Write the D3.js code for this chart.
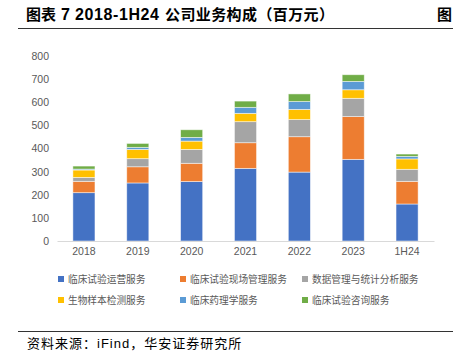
<!DOCTYPE html>
<html>
<head>
<meta charset="utf-8">
<script src="https://cdn.jsdelivr.net/npm/d3@7"></script>
<style>
  body { margin: 0; background: #fff; }
  svg { display: block; font-family: "Liberation Sans", Arial, "Noto Sans CJK SC", sans-serif; }
</style>
</head>
<body>
<svg width="453" height="353"></svg>
<script>
// категории по оси X
const years = ['2018', '2019', '2020', '2021', '2022', '2023', '1H24'];
// серии (млн юаней)
const seriesNames = ['临床试验运营服务', '临床试验现场管理服务', '数据管理与统计分析服务',
  '生物样本检测服务', '临床药理学服务', '临床试验咨询服务'];
const operation = [209, 251, 257, 314, 298, 353, 160];
const siteMgmt  = [49, 70, 79, 111, 153, 185, 98];
const dataStat  = [17, 35, 60, 91, 74, 79, 52];
const bioSample = [32, 40, 36, 36, 44, 37, 45];
const pharma    = [4, 9, 16, 26, 34, 36, 11];
const consult   = [13, 17, 33, 27, 33, 29, 10];
const yTicks = [0, 100, 200, 300, 400, 500, 600, 700, 800];
const colors = ['#4472c4', '#ed7d31', '#a5a5a5', '#ffc000', '#5b9bd5', '#70ad47'];

const allSeries = [operation, siteMgmt, dataStat, bioSample, pharma, consult];
// таблица для d3.stack
const table = years.map((y, i) => {
  const row = {year: y};
  seriesNames.forEach((s, k) => row[s] = allSeries[k][i]);
  return row;
});

const svg = d3.select('svg');

// заголовок
const title = svg.append('text')
  .attr('x', 26).attr('y', 20)
  .attr('font-size', 15).attr('font-weight', 'bold').attr('fill', '#000');
title.append('tspan')
  .attr('font-family', '"Noto Sans CJK SC", sans-serif')
  .text('图表');
title.append('tspan')
  .attr('x', 61)
  .attr('font-size', 16)
  .attr('font-family', '"Liberation Sans", Arial, sans-serif')
  .text('7');
title.append('tspan')
  .attr('x', 75)
  .attr('font-size', 16)
  .attr('letter-spacing', 0.6)
  .attr('font-family', '"Liberation Sans", Arial, sans-serif')
  .text('2018-1H24');
title.append('tspan')
  .attr('x', 165)
  .attr('letter-spacing', 0.4)
  .attr('font-family', '"Noto Sans CJK SC", sans-serif')
  .text('公司业务构成（百万元）');
svg.append('text')
  .attr('x', 437).attr('y', 20)
  .attr('font-size', 15).attr('font-weight', 'bold').attr('fill', '#000')
  .attr('font-family', '"Noto Sans CJK SC", sans-serif')
  .text('图');
svg.append('line')
  .attr('x1', 18).attr('x2', 453).attr('y1', 28.5).attr('y2', 28.5)
  .attr('stroke', '#333').attr('stroke-width', 1);

// шкалы
const scX = d3.scaleBand().domain(years).range([57, 434]).paddingInner(0.59).paddingOuter(0.295);
const scY = d3.scaleLinear().domain([0, 800]).range([241, 56]);

// ось Y (только подписи)
const axisY = d3.axisLeft(scY).tickValues(yTicks).tickSize(0).tickPadding(0);
const gy = svg.append('g').attr('transform', 'translate(49,0)').call(axisY);
gy.select('.domain').remove();
gy.selectAll('text').attr('font-size', 10.5).attr('fill', '#595959')
  .attr('font-family', '"Liberation Sans", Arial, sans-serif');

// столбцы
const stack = d3.stack().keys(seriesNames)(table);
svg.append('g').selectAll('g')
  .data(stack)
  .join('g')
  .attr('fill', (d, i) => colors[i])
  .selectAll('rect')
  .data(d => d)
  .join('rect')
  .attr('x', d => scX(d.data.year))
  .attr('width', scX.bandwidth())
  .attr('y', d => scY(d[1]))
  .attr('height', d => scY(d[0]) - scY(d[1]))
  .attr('stroke', '#ffffff')
  .attr('stroke-opacity', 0.6)
  .attr('stroke-width', 0.8);

// ось X
const axisX = d3.axisBottom(scX).tickSize(0).tickPadding(7);
const gx = svg.append('g').attr('transform', 'translate(0,241)').call(axisX);
gx.select('.domain').attr('stroke', '#d9d9d9');
gx.selectAll('text').attr('font-size', 10.5).attr('fill', '#595959')
  .attr('font-family', '"Liberation Sans", Arial, sans-serif');

// легенда
const legX = [58, 180, 302];
const legY = [279, 300];
const leg = svg.append('g').selectAll('g')
  .data(seriesNames)
  .join('g')
  .attr('transform', (d, i) => `translate(${legX[i % 3]}, ${legY[Math.floor(i / 3)]})`);
leg.append('rect')
  .attr('x', 0).attr('y', -3).attr('width', 6).attr('height', 6)
  .attr('fill', (d, i) => colors[i]);
leg.append('text')
  .attr('x', 10).attr('y', 4)
  .attr('font-size', 9.7).attr('fill', '#595959')
  .attr('font-family', '"Noto Sans CJK SC", sans-serif')
  .text(d => d);

// источник
svg.append('line')
  .attr('x1', 18).attr('x2', 453).attr('y1', 331.5).attr('y2', 331.5)
  .attr('stroke', '#333').attr('stroke-width', 1);
svg.append('text')
  .attr('x', 27).attr('y', 348)
  .attr('font-size', 13).attr('fill', '#000')
  .attr('letter-spacing', 1)
  .attr('font-family', '"Liberation Sans", "Noto Sans CJK SC", sans-serif')
  .text('资料来源：iFind，华安证券研究所');
</script>
</body>
</html>
